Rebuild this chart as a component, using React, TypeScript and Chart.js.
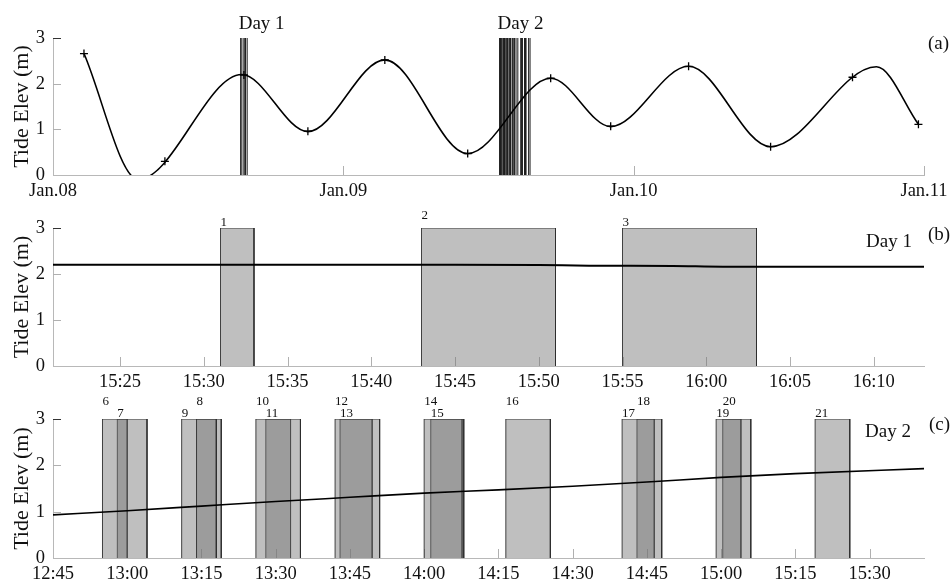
import React, { useEffect, useRef } from 'react';
import { Chart, registerables } from 'chart.js';
Chart.register(...registerables);

const W = 952;
const H = 583;
const FONT = "'Liberation Serif', 'Times New Roman', serif";
const Y_TICKS = [0, 1, 2, 3];
const AXIS_COLOR = '#b8b8b8';
const TICK_COLOR = '#b0b0b0';
const BOX_FILL = 'rgba(115,115,115,0.46)';
const BOX_EDGE = 'rgba(45,45,45,0.9)';

// ---------- Panel (a): hours since Jan.08 00:00 ----------
const A_TICK_HOURS = [0, 24, 48, 72];
const A_TICK_LABELS = ['Jan.08', 'Jan.09', 'Jan.10', 'Jan.11'];
// tide curve: start, successive highs/lows, end
const A_TIDE_HOURS = [2.56, 7.05, 15.6, 21.07, 27.43, 34.28, 41.14, 46.1, 52.54, 59.32, 68.07, 71.54];
const A_TIDE_ELEV = [2.66, -0.1, 2.2, 0.95, 2.52, 0.47, 2.12, 1.06, 2.38, 0.62, 2.37, 1.11];
const A_MARK_HOURS = [2.56, 9.25, 15.78, 21.07, 27.43, 34.28, 41.14, 46.1, 52.54, 59.32, 66.09, 71.54];
const A_MARK_ELEV = [2.66, 0.3, 2.19, 0.96, 2.52, 0.47, 2.12, 1.07, 2.38, 0.62, 2.14, 1.11];
const DAY1_OFFSET_H = 0;
const DAY2_OFFSET_H = 24;

// ---------- Panel (b): Day 1 ----------
const D1_RANGE = ['15:21', '16:13'];
const D1_TICKS = ['15:25', '15:30', '15:35', '15:40', '15:45', '15:50', '15:55', '16:00', '16:05', '16:10'];
const D1_IDS = ['1', '2', '3'];
const D1_START = ['15:31', '15:43', '15:55'];
const D1_END = ['15:33', '15:51', '16:03'];
const D1_TIDE_TIME = ['15:21', '15:45', '15:50', '15:53', '15:58', '16:01', '16:08', '16:13'];
const D1_TIDE_ELEV = [2.2, 2.2, 2.195, 2.18, 2.175, 2.16, 2.16, 2.155];

// ---------- Panel (c): Day 2 ----------
const D2_RANGE = ['12:45', '15:41'];
const D2_TICKS = ['12:45', '13:00', '13:15', '13:30', '13:45', '14:00', '14:15', '14:30', '14:45', '15:00', '15:15', '15:30'];
const D2_IDS = ['6', '7', '8', '9', '10', '11', '12', '13', '14', '15', '16', '17', '18', '19', '20', '21'];
const D2_START = ['12:55', '12:58', '13:14', '13:11', '13:26', '13:28', '13:42', '13:43', '14:00', '14:01:20', '14:16:30', '14:40', '14:43', '14:59', '15:00:20', '15:19'];
const D2_END = ['13:04', '13:00', '13:18', '13:19', '13:35', '13:33', '13:51', '13:49:30', '14:08', '14:07:40', '14:25:30', '14:48', '14:46:30', '15:06', '15:04', '15:26'];
const D2_TIDE_TIME = ['12:45', '13:00', '13:15', '13:30', '13:45', '14:00', '14:15', '14:30', '14:45', '15:00', '15:15', '15:41'];
const D2_TIDE_ELEV = [0.93, 1.02, 1.12, 1.22, 1.31, 1.4, 1.47, 1.55, 1.64, 1.74, 1.82, 1.93];

function toMin(s: string): number {
  const p = s.split(':').map(Number);
  return p[0] * 60 + p[1] + (p[2] || 0) / 60;
}

type TextItem = { text: string; size: number; pos: (ca: any, chart: any) => [number, number] };
type BoxLabel = { value: number; text: string; raise: number };

function makeDecor(boxLabels: BoxLabel[], texts: TextItem[]) {
  return {
    id: 'decor',
    beforeDatasetsDraw(chart: any) {
      const { ctx, chartArea: ca } = chart;
      const x = chart.scales.x;
      const y = chart.scales.y;
      ctx.save();
      ctx.lineWidth = 1;
      for (const t of x.ticks) {
        const px = Math.round(x.getPixelForValue(t.value)) + 0.5;
        if (px < ca.left + 2) continue;
        ctx.strokeStyle = TICK_COLOR;
        ctx.beginPath();
        ctx.moveTo(px, ca.bottom);
        ctx.lineTo(px, ca.bottom - 9);
        ctx.stroke();
      }
      for (const t of y.ticks) {
        if (t.value === 0) continue;
        const py = Math.round(y.getPixelForValue(t.value)) + 0.5;
        ctx.strokeStyle = t.value === 3 ? '#333' : TICK_COLOR;
        ctx.beginPath();
        ctx.moveTo(ca.left, py);
        ctx.lineTo(ca.left + 8, py);
        ctx.stroke();
      }
      ctx.restore();
    },
    afterDatasetsDraw(chart: any) {
      const { ctx, chartArea: ca } = chart;
      const x = chart.scales.x;
      ctx.save();
      ctx.fillStyle = '#111';
      ctx.textAlign = 'left';
      ctx.textBaseline = 'alphabetic';
      ctx.font = `13px ${FONT}`;
      for (const b of boxLabels) {
        ctx.fillText(b.text, x.getPixelForValue(b.value), ca.top - 2 - b.raise);
      }
      for (const t of texts) {
        ctx.font = `${t.size}px ${FONT}`;
        const [tx, ty] = t.pos(ca, chart);
        ctx.fillText(t.text, tx, ty);
      }
      ctx.restore();
    },
  };
}

function baseOptions(xmin: number, xmax: number, tickVals: number[], tickLabels: string[], padTop: number, padBottom: number) {
  return {
    responsive: false,
    animation: false,
    events: [],
    layout: { padding: { left: 0, right: 28, top: padTop, bottom: padBottom } },
    plugins: { legend: { display: false }, tooltip: { enabled: false } },
    scales: {
      x: {
        type: 'linear',
        min: xmin,
        max: xmax,
        grid: { display: false, drawTicks: false },
        border: { display: true, color: AXIS_COLOR, width: 1 },
        afterBuildTicks: (s: any) => {
          s.ticks = tickVals.map((v) => ({ value: v }));
        },
        afterFit: (s: any) => {
          s.height = 25;
          s.paddingLeft = 0;
          s.paddingRight = 0;
        },
        ticks: {
          autoSkip: false,
          maxRotation: 0,
          padding: 5,
          color: '#111',
          font: { family: FONT, size: 18.5 },
          callback: (_v: any, i: number) => tickLabels[i],
        },
      },
      y: {
        min: 0,
        max: 3,
        grid: { display: false, drawTicks: false },
        border: { display: true, color: AXIS_COLOR, width: 1 },
        afterBuildTicks: (s: any) => {
          s.ticks = Y_TICKS.map((v) => ({ value: v }));
        },
        afterFit: (s: any) => {
          s.width = 53;
          s.paddingTop = 0;
          s.paddingBottom = 0;
        },
        title: {
          display: true,
          text: 'Tide Elev (m)',
          color: '#111',
          font: { family: FONT, size: 22 },
          padding: { top: 9, bottom: 0 },
        },
        ticks: {
          padding: 8,
          color: '#111',
          font: { family: FONT, size: 18.5 },
          callback: (v: any) => String(v),
        },
      },
    },
  };
}

function boxDataset(s: number, e: number) {
  return {
    data: [
      { x: s, y: 0 },
      { x: s, y: 3 },
      { x: e, y: 3 },
      { x: e, y: 0 },
    ],
    borderColor: BOX_EDGE,
    borderWidth: 1,
    backgroundColor: BOX_FILL,
    fill: 'origin',
    pointRadius: 0,
    tension: 0,
    order: 2,
  };
}

function buildA() {
  const lineData: any[] = [];
  const addLines = (starts: string[], ends: string[], off: number) => {
    starts.forEach((s, i) => {
      for (const t of [s, ends[i]]) {
        const h = off + toMin(t) / 60;
        lineData.push({ x: h, y: 0 }, { x: h, y: 3 }, { x: h, y: null });
      }
    });
  };
  addLines(D1_START, D1_END, DAY1_OFFSET_H);
  addLines(D2_START, D2_END, DAY2_OFFSET_H);
  const day1First = DAY1_OFFSET_H + toMin(D1_START[0]) / 60;
  const day2First = DAY2_OFFSET_H + Math.min(...D2_START.map(toMin)) / 60;
  const texts: TextItem[] = [
    { text: 'Day 1', size: 19, pos: (ca, ch) => [ch.scales.x.getPixelForValue(day1First) - 2, ca.top - 9] },
    { text: 'Day 2', size: 19, pos: (ca, ch) => [ch.scales.x.getPixelForValue(day2First) - 2, ca.top - 9] },
    { text: '(a)', size: 19, pos: (ca) => [ca.right + 4, ca.top + 11] },
  ];
  return {
    type: 'line',
    data: {
      datasets: [
        {
          data: A_MARK_HOURS.map((h, i) => ({ x: h, y: A_MARK_ELEV[i] })),
          showLine: false,
          pointStyle: 'cross',
          pointRadius: 4,
          pointBorderColor: '#000',
          pointBorderWidth: 1.3,
          order: 0,
        },
        {
          data: A_TIDE_HOURS.map((h, i) => ({ x: h, y: A_TIDE_ELEV[i] })),
          borderColor: '#000',
          borderWidth: 1.6,
          pointRadius: 0,
          cubicInterpolationMode: 'monotone',
          fill: false,
          clip: 0,
          order: 1,
        },
        {
          data: lineData,
          borderColor: '#1a1a1a',
          borderWidth: 1,
          pointRadius: 0,
          spanGaps: false,
          fill: false,
          order: 2,
        },
      ],
    },
    options: baseOptions(0, 72, A_TICK_HOURS, A_TICK_LABELS, 38, H - 175 - 25),
    plugins: [makeDecor([], texts)],
  };
}

function buildB() {
  const labels: BoxLabel[] = D1_IDS.map((id, i) => ({ value: toMin(D1_START[i]), text: id, raise: id === '2' ? 7 : 0 }));
  const texts: TextItem[] = [
    { text: 'Day 1', size: 19, pos: (ca) => [ca.right - 58, ca.top + 19] },
    { text: '(b)', size: 19, pos: (ca) => [ca.right + 4, ca.top + 12] },
  ];
  return {
    type: 'line',
    data: {
      datasets: [
        {
          data: D1_TIDE_TIME.map((t, i) => ({ x: toMin(t), y: D1_TIDE_ELEV[i] })),
          borderColor: '#000',
          borderWidth: 2,
          pointRadius: 0,
          cubicInterpolationMode: 'monotone',
          fill: false,
          order: 0,
        },
        ...D1_START.map((s, i) => boxDataset(toMin(s), toMin(D1_END[i]))),
      ],
    },
    options: baseOptions(toMin(D1_RANGE[0]), toMin(D1_RANGE[1]), D1_TICKS.map(toMin), D1_TICKS, 228, H - 366 - 25),
    plugins: [makeDecor(labels, texts)],
  };
}

function buildC() {
  const labels: BoxLabel[] = D2_IDS.map((id, i) => ({ value: toMin(D2_START[i]), text: id, raise: Number(id) % 2 === 0 ? 12 : 0 }));
  const texts: TextItem[] = [
    { text: 'Day 2', size: 19, pos: (ca) => [ca.right - 59, ca.top + 18] },
    { text: '(c)', size: 19, pos: (ca) => [ca.right + 5, ca.top + 11] },
  ];
  return {
    type: 'line',
    data: {
      datasets: [
        {
          data: D2_TIDE_TIME.map((t, i) => ({ x: toMin(t), y: D2_TIDE_ELEV[i] })),
          borderColor: '#000',
          borderWidth: 1.6,
          pointRadius: 0,
          cubicInterpolationMode: 'monotone',
          fill: false,
          order: 0,
        },
        ...D2_START.map((s, i) => boxDataset(toMin(s), toMin(D2_END[i]))),
      ],
    },
    options: baseOptions(toMin(D2_RANGE[0]), toMin(D2_RANGE[1]), D2_TICKS.map(toMin), D2_TICKS, 419, H - 558 - 25),
    plugins: [makeDecor(labels, texts)],
  };
}

export default function App() {
  const refA = useRef<HTMLCanvasElement>(null);
  const refB = useRef<HTMLCanvasElement>(null);
  const refC = useRef<HTMLCanvasElement>(null);

  useEffect(() => {
    const charts: Chart[] = [];
    const cfgs = [buildA(), buildB(), buildC()];
    [refA, refB, refC].forEach((r, i) => {
      if (r.current) charts.push(new Chart(r.current, cfgs[i] as any));
    });
    return () => charts.forEach((c) => c.destroy());
  }, []);

  const cs: React.CSSProperties = { position: 'absolute', left: 0, top: 0, width: W, height: H };
  return (
    <div style={{ position: 'fixed', left: 0, top: 0, width: W, height: H, background: '#fff' }}>
      <canvas ref={refA} width={W} height={H} style={cs} />
      <canvas ref={refB} width={W} height={H} style={cs} />
      <canvas ref={refC} width={W} height={H} style={cs} />
    </div>
  );
}
